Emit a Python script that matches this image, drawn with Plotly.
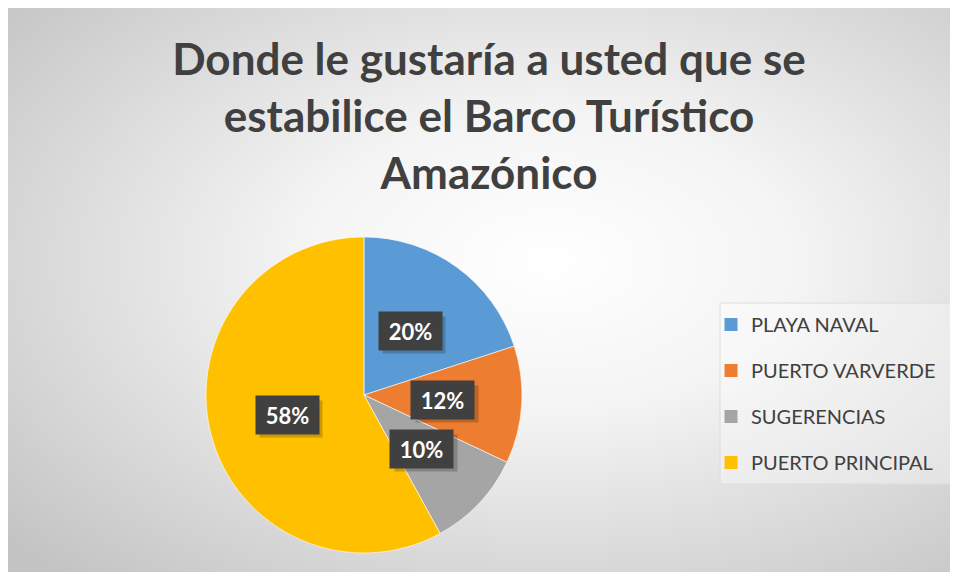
import math
import plotly.graph_objects as go

categories = ["PLAYA NAVAL", "PUERTO VARVERDE", "SUGERENCIAS", "PUERTO PRINCIPAL"]
values = [20, 12, 10, 58]
colors = ["#5B9BD5", "#ED7D31", "#A5A5A5", "#FFC000"]
title_text = "Donde le gustaría a usted que se<br>estabilice el Barco Turístico<br>Amazónico"

# page body has an 8px margin, so figure pixel coords = page coords - 8
W, H = 950, 564
CX, CY, R = 356, 387, 158  # pie centre/radius in figure pixels (layout)

dom_x = [(CX - R) / W, (CX + R) / W]
dom_y = [(H - CY - R) / H, (H - CY + R) / H]

bg_svg = (
    "data:image/svg+xml;utf8,"
    "<svg xmlns='http://www.w3.org/2000/svg' width='950' height='564'>"
    "<defs><radialGradient id='g' cx='0.57' cy='0.45' r='0.75' gradientUnits='objectBoundingBox'>"
    "<stop offset='0' stop-color='%23ffffff'/>"
    "<stop offset='0.35' stop-color='%23f4f4f4'/>"
    "<stop offset='1' stop-color='%23c4c4c4'/>"
    "</radialGradient></defs>"
    "<rect x='0' y='0' width='950' height='564' fill='url(%23g)'/>"
    "</svg>"
)

fig = go.Figure()
fig.add_trace(go.Pie(
    labels=categories, values=values, sort=False, direction="clockwise", rotation=0,
    marker=dict(colors=colors, line=dict(color="rgba(255,255,255,0.6)", width=1)),
    textinfo="none", hoverinfo="label+percent", showlegend=False,
    domain=dict(x=dom_x, y=dom_y),
))

# legend entries (dummy traces so the entries can be spaced like the original)
for i, (c, col) in enumerate(zip(categories, colors)):
    fig.add_trace(go.Scatter(
        x=[None], y=[None], mode="markers", name=c, legendgroup=f"g{i}",
        marker=dict(symbol="square", size=13, color=col), showlegend=True,
    ))

# data labels in dark boxes, placed at half radius along each slice's mid-angle
total = sum(values)
annotations = []
cum = 0
for v in values:
    mid = (cum + v / 2) / total * 2 * math.pi
    cum += v
    px = CX + 0.5 * R * math.sin(mid)
    py = CY - 0.5 * R * math.cos(mid)
    xp, yp = px / W, 1 - py / H
    txt = f"{round(v / total * 100)}%"
    annotations.append(dict(
        x=xp + 4 / W, y=yp - 4 / H, xref="paper", yref="paper", text="",
        xanchor="center", yanchor="middle",
        showarrow=False, width=60, height=34, bgcolor="rgba(0,0,0,0.2)",
    ))
    annotations.append(dict(
        x=xp, y=yp, xref="paper", yref="paper", text=f"<b>{txt}</b>",
        xanchor="center", yanchor="middle",
        showarrow=False, width=55, height=30, borderpad=4, bgcolor="#404040",
        font=dict(family="Lato, Open Sans, sans-serif", size=22, color="white"),
    ))

fig.update_layout(
    width=W, height=H,
    margin=dict(l=0, r=0, t=0, b=0),
    paper_bgcolor="white", plot_bgcolor="rgba(0,0,0,0)",
    xaxis=dict(visible=False), yaxis=dict(visible=False),
    images=[dict(source=bg_svg, xref="paper", yref="paper", x=0, y=1, sizex=1, sizey=1,
                 sizing="stretch", layer="below", xanchor="left", yanchor="top")],
    shapes=[dict(type="rect", xref="paper", yref="paper",
                 x0=712 / W, x1=945 / W, y0=1 - 476 / H, y1=1 - 295 / H,
                 fillcolor="rgba(255,255,255,0.35)", line=dict(color="#dcdcdc", width=1),
                 layer="below")],
    title=dict(text=f"<b>{title_text}</b>", x=481 / W, xanchor="center", y=1 - 67 / H, yanchor="top",
               font=dict(family="Lato, Open Sans, sans-serif", size=44, color="#404040")),
    legend=dict(x=703 / W, y=1 - 297 / H, xanchor="left", yanchor="top",
                bgcolor="rgba(0,0,0,0)", borderwidth=0,
                tracegroupgap=17, itemsizing="trace",
                font=dict(family="Lato, Open Sans, sans-serif", size=20, color="#404040")),
    annotations=annotations,
)

fig.write_html("out.html")
